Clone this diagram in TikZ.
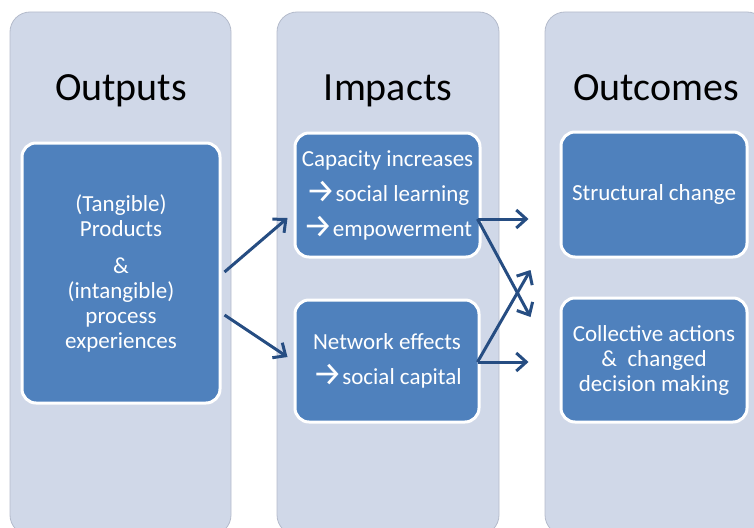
\documentclass[tikz,border=0pt]{standalone}
\usepackage{fontspec}
\setmainfont{Carlito}
\newfontfamily\arrowfont{Fira Sans}
\usetikzlibrary{arrows.meta,calc}
\definecolor{colbg}{HTML}{D0D8E8}
\definecolor{colline}{HTML}{B4BBCB}
\definecolor{boxfill}{HTML}{4F81BD}
\definecolor{arrowcol}{HTML}{264D82}
\newcommand{\rarr}{\raisebox{-1pt}{\scalebox{1.45}{\arrowfont\symbol{"2192}}}}
\begin{document}
\begin{tikzpicture}[x=1pt,y=-1pt,
  column/.style={draw=colline, line width=0.8pt, fill=colbg, rounded corners=20pt, inner sep=0pt},
  title/.style={font=\fontsize{40}{48}\selectfont, text=black, anchor=base, inner sep=0pt},
  box/.style={draw=white, line width=3pt, fill=boxfill, rounded corners=14pt, text=white, align=center, inner sep=0pt},
  smallsp/.style={font=\fontsize{23}{25}\selectfont},
  widesp/.style={font=\fontsize{23}{35}\selectfont},
  link/.style={draw=arrowcol, line width=3pt, -{Straight Barb[length=10pt,width=18pt]}}
]
\useasboundingbox (0,0) rectangle (754,527);
\clip (0,0) rectangle (754,527);
% columns
\node[column, minimum width=221pt, minimum height=523pt] (c1) at (120.5,273.5) {};
\node[column, minimum width=222pt, minimum height=523pt] (c2) at (388,273.5) {};
\node[column, minimum width=222pt, minimum height=523pt] (c3) at (656,273.5) {};
% titles
\node[title] (t1) at (121,100) {Outputs};
\node[title] (t2) at (388,100) {Impacts};
\node[title] (t3) at (656,100) {Outcomes};
% boxes
\node[box, smallsp, minimum width=198pt, minimum height=260pt] (out) at (121,273)
  {(Tangible)\\Products\\[12pt]\&\\(intangible)\\process\\experiences};
\node[box, widesp, minimum width=185pt, minimum height=124pt] (cap) at (387.5,195)
  {Capacity increases\\\rarr social learning\\\rarr empowerment};
\node[box, widesp, minimum width=184pt, minimum height=122pt] (net) at (387,361)
  {Network effects\\\rarr social capital};
\node[box, smallsp, minimum width=186pt, minimum height=125pt] (str) at (654,194.5)
  {Structural change};
\node[box, smallsp, minimum width=186pt, minimum height=124pt] (col) at (654,360)
  {Collective actions\\\&\ \ changed\\decision making};
% connector end points
\coordinate (a1s) at ($(out.east)+(3,-1)$);
\coordinate (a1e) at ($(cap.west)+(-6,23)$);
\coordinate (a2s) at ($(out.east)+(3,42)$);
\coordinate (a2e) at ($(net.west)+(-6,-4)$);
\coordinate (a3s) at ($(cap.east)+(-4,24)$);
\coordinate (a3e) at ($(str.west)+(-31,24.5)$);
\coordinate (a4e) at ($(col.west)+(-29,-43)$);
\coordinate (a5s) at ($(net.east)+(-3,1)$);
\coordinate (a5e) at ($(col.west)+(-31,2)$);
\coordinate (a6e) at ($(str.west)+(-29,75.5)$);
% connectors
\draw[link] (a1s) -- (a1e);
\draw[link] (a2s) -- (a2e);
\draw[link] (a3s) -- (a3e);
\draw[link] (a3s) -- (a4e);
\draw[link] (a5s) -- (a5e);
\draw[link] (a5s) -- (a6e);
\end{tikzpicture}
\end{document}
